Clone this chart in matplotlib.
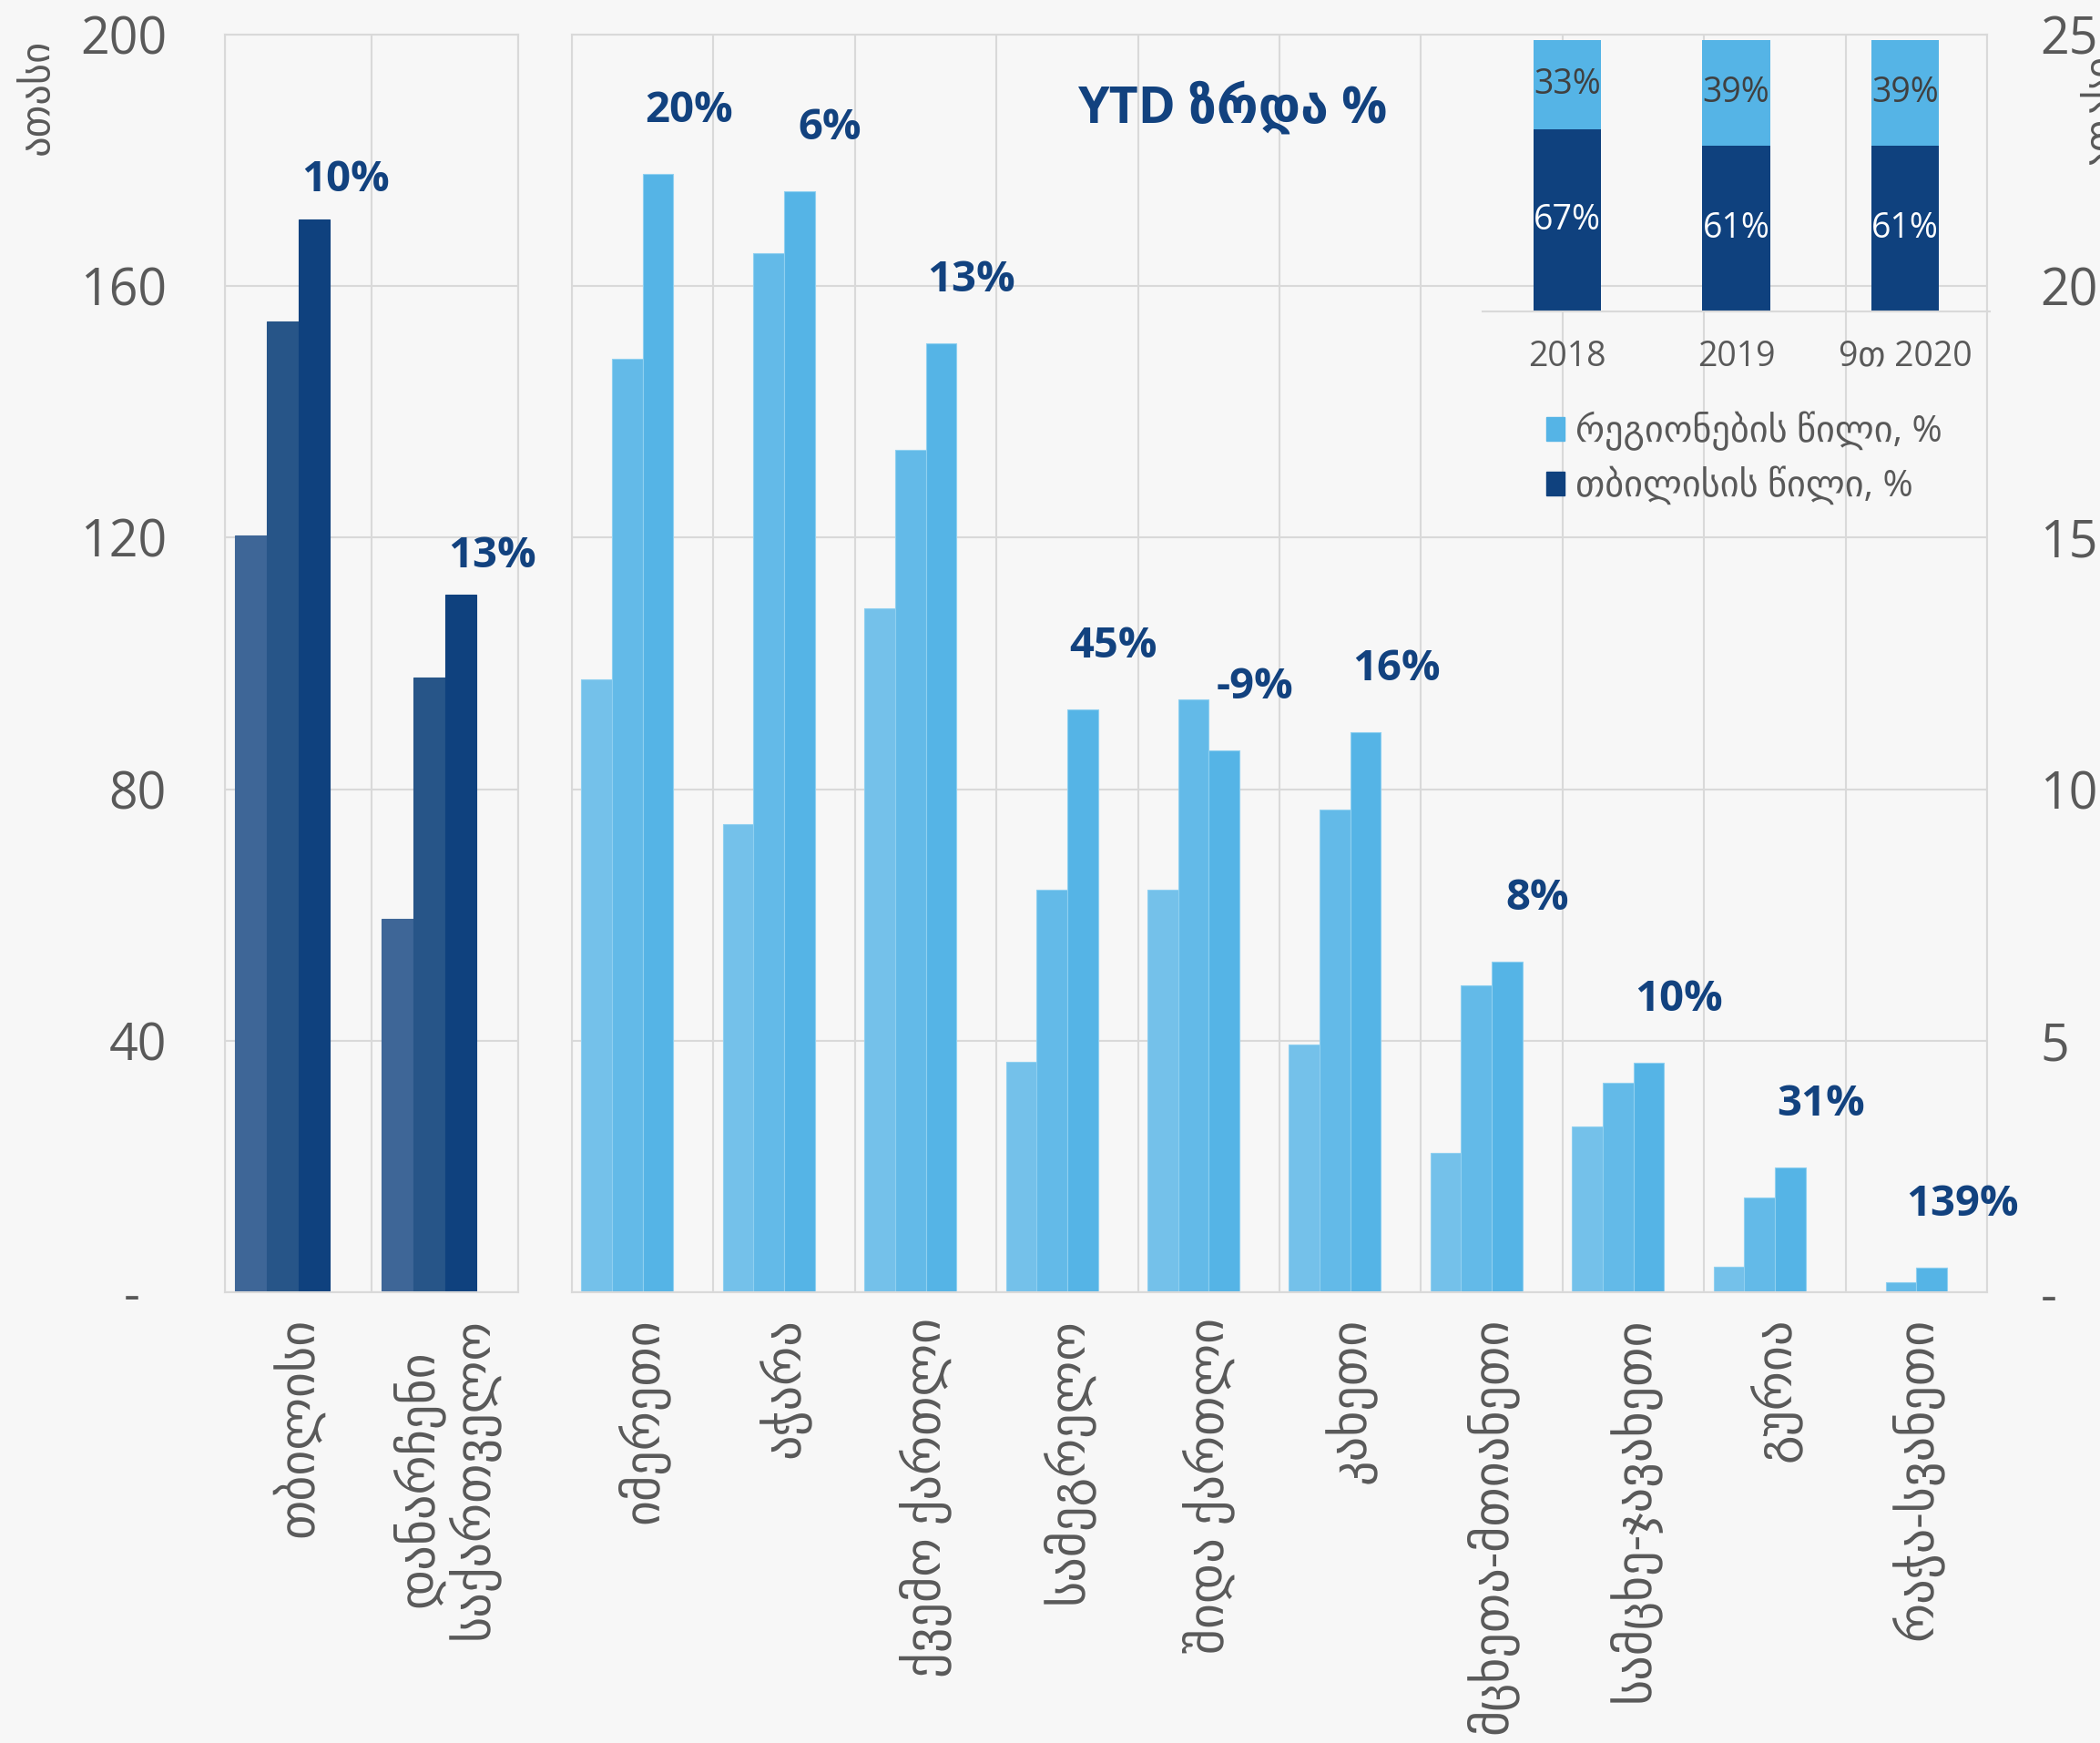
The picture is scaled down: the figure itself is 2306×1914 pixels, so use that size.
import matplotlib

matplotlib.use("Agg")
import matplotlib.pyplot as plt
import numpy as np
from matplotlib.patches import Patch

plt.rcParams["font.family"] = ["Open Sans", "DejaVu Sans"]

# თბილისი და დანარჩენი საქართველო (მარცხენა ღერძი, ათასი)
left_cats = ["თბილისი", "დანარჩენი\nსაქართველო"]
left_2018 = [120.3, 59.4]
left_2019 = [154.4, 97.7]
left_2020 = [170.6, 110.9]
left_growth = ["10%", "13%"]

# რეგიონები (მარჯვენა ღერძი, ათასი)
reg_cats = ["იმერეთი", "აჭარა", "ქვემო ქართლი", "სამეგრელო", "შიდა ქართლი",
            "კახეთი", "მცხეთა-მთიანეთი", "სამცხე-ჯავახეთი", "გურია", "რაჭა-სვანეთი"]
reg_2018 = [12.18, 9.30, 13.59, 4.58, 8.00, 4.93, 2.77, 3.30, 0.51, 0.0]
reg_2019 = [18.55, 20.66, 16.74, 8.00, 11.78, 9.59, 6.10, 4.16, 1.88, 0.205]
reg_2020 = [22.23, 21.88, 18.87, 11.59, 10.77, 11.14, 6.58, 4.56, 2.48, 0.49]
reg_growth = ["20%", "6%", "13%", "45%", "-9%", "16%", "8%", "10%", "31%", "139%"]

# წილები (ჩასმული დიაგრამა)
share_years = ["2018", "2019", "9თ 2020"]
share_tbilisi = [67, 61, 61]
share_regions = [33, 39, 39]

left_ticks = [0, 40, 80, 120, 160, 200]
left_ticklabels = ["-  ", "40", "80", "120", "160", "200"]
right_ticks = [0, 5, 10, 15, 20, 25]
right_ticklabels = ["-", "5", "10", "15", "20", "25"]

BG = "#F7F7F7"
GRID = "#D9D9D9"
TXT = "#595959"
NAVY = "#12427F"
DARK_COLORS = ["#3E6697", "#275588", "#0F417E"]
LIGHT_COLORS = ["#74C1EA", "#63BAE8", "#55B4E6"]

W, H = 2306, 1914
fig = plt.figure(figsize=(W / 100, H / 100), dpi=100, facecolor=BG)

BAR_W = 0.2165
MARGIN = (1 - 4 * BAR_W) / 2


def bar_x(n, j):
    return np.arange(n) - 0.5 + MARGIN + (j + 0.5) * BAR_W


def style_axes(ax, n, cats):
    ax.set_facecolor("none")
    ax.set_xlim(-0.5, n - 0.5)
    for s in ax.spines.values():
        s.set_color(GRID)
        s.set_linewidth(1.5)
    ax.set_xticks(np.arange(n))
    ax.set_xticklabels(cats, rotation=90, fontsize=39, color=TXT, linespacing=1.05)
    ax.set_xticks(np.arange(n + 1) - 0.5, minor=True)
    ax.tick_params(axis="x", which="both", length=0, pad=20)
    ax.grid(axis="x", which="minor", color=GRID, lw=1.5)
    ax.grid(axis="y", which="major", color=GRID, lw=1.5)
    ax.set_axisbelow(True)


def px(x0, y0, x1, y1):
    return [x0 / W, 1 - y1 / H, (x1 - x0) / W, (y1 - y0) / H]


# მარცხენა პანელი
ax_l = fig.add_axes(px(247, 38, 569, 1419))
style_axes(ax_l, len(left_cats), left_cats)
for j, vals in enumerate([left_2018, left_2019, left_2020]):
    ax_l.bar(bar_x(len(left_cats), j), vals, width=BAR_W, color=DARK_COLORS[j],
             edgecolor=DARK_COLORS[j], lw=0.8, zorder=2)
for x, v, g in zip(bar_x(len(left_cats), 3), left_2020, left_growth):
    ax_l.annotate(g, (x, v), xytext=(0, 31), textcoords="offset points",
                  ha="center", va="center", fontsize=34, fontweight="bold", color=NAVY)
ax_l.set_ylim(0, 200)
ax_l.set_yticks(left_ticks)
ax_l.set_yticklabels(left_ticklabels)
ax_l.tick_params(axis="y", length=0, pad=46, labelsize=40, labelcolor=TXT)

# მარჯვენა პანელი
ax_r = fig.add_axes(px(628, 38, 2182, 1419))
style_axes(ax_r, len(reg_cats), reg_cats)
for j, vals in enumerate([reg_2018, reg_2019, reg_2020]):
    ax_r.bar(bar_x(len(reg_cats), j), vals, width=BAR_W, color=LIGHT_COLORS[j],
             edgecolor="#8FD0F0", lw=0.8, zorder=2)
for x, v, g in zip(bar_x(len(reg_cats), 3), reg_2020, reg_growth):
    ax_r.annotate(g, (x, v), xytext=(0, 50), textcoords="offset points",
                  ha="center", va="center", fontsize=34, fontweight="bold", color=NAVY)
ax_r.set_ylim(0, 25)
ax_r.yaxis.tick_right()
ax_r.set_yticks(right_ticks)
ax_r.set_yticklabels(right_ticklabels)
ax_r.tick_params(axis="y", length=0, pad=42, labelsize=40, labelcolor=TXT)

fig.text(1353 / W, 1 - 118 / H, "YTD ზრდა %", ha="center", va="center",
         fontsize=40, fontweight="bold", color=NAVY)

fig.text(42 / W, 1 - 106 / H, "ათასი", rotation=90, ha="center", va="center",
         fontsize=32, color=TXT)
fig.text(2285 / W, 1 - 122 / H, "ათასი", rotation=90, ha="left", va="center",
         fontsize=32, color=TXT)

# ჩასმული დიაგრამა: თბილისისა და რეგიონების წილი
ax_in = fig.add_axes(px(1628, 44, 2185, 342))
ax_in.set_facecolor("none")
xi = np.arange(len(share_years))
b_dark = ax_in.bar(xi, share_tbilisi, width=0.4, color="#0F417E", zorder=2)
b_light = ax_in.bar(xi, share_regions, bottom=share_tbilisi, width=0.4,
                    color="#55B4E6", zorder=2)
ax_in.bar_label(b_dark, labels=[f"{v}%" for v in share_tbilisi], label_type="center",
                fontsize=27, color="white")
ax_in.bar_label(b_light, labels=[f"{v}%" for v in share_regions], label_type="center",
                fontsize=27, color="#404040")
ax_in.set_xlim(-0.5, 2.5)
ax_in.set_ylim(0, 100)
for side in ("top", "left", "right"):
    ax_in.spines[side].set_visible(False)
ax_in.spines["bottom"].set_color(GRID)
ax_in.spines["bottom"].set_linewidth(1.5)
ax_in.set_yticks([])
ax_in.set_xticks(xi)
ax_in.set_xticklabels(share_years)
ax_in.tick_params(axis="x", length=0, pad=22, labelsize=27, labelcolor=TXT)

handles = [Patch(color="#55B4E6", label="რეგიონების წილი, %"),
           Patch(color="#0F417E", label="თბილისის წილი, %")]
fig.legend(handles=handles, loc="upper left", bbox_to_anchor=(1698 / W, 1 - 452 / H),
           frameon=False, fontsize=29, labelcolor=TXT, handlelength=0.5,
           handleheight=0.6, handletextpad=0.3, labelspacing=0.42, borderpad=0,
           borderaxespad=0)

fig.savefig("out.png", dpi=100, facecolor=BG)
